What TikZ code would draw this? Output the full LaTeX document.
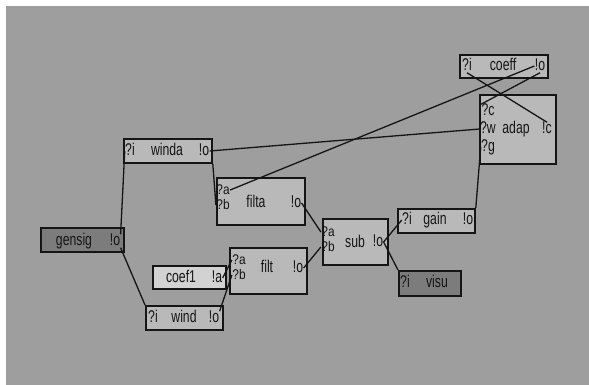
\documentclass[tikz,border=0pt]{standalone}
\usepackage{fontspec}
\setmainfont{Liberation Sans}[FakeStretch=0.72]
\newfontfamily\pairfont{Liberation Sans}[FakeStretch=0.85]
\definecolor{bggray}{HTML}{9E9E9E}
\definecolor{boxgray}{HTML}{B9B9B9}
\definecolor{boxlight}{HTML}{D2D2D2}
\definecolor{boxdark}{HTML}{7C7C7C}
\definecolor{ink}{HTML}{151515}
\begin{document}
\begin{tikzpicture}[x=1pt,y=-1pt,
  box/.style={draw=ink, line width=1.8pt, fill=boxgray, inner sep=0pt, anchor=north west},
  lbl/.style={inner sep=0.3pt, text height=11pt, text depth=1.5pt, font=\fontsize{17}{17}\selectfont, text=ink},
  pair/.style={inner sep=0.3pt, text height=10pt, text depth=1pt, font=\pairfont\fontsize{14}{14}\selectfont, text=ink},
  wire/.style={draw=ink, line width=1.3pt}]
\fill[white] (0,0) rectangle (589,385);
\fill[bggray] (6,6) rectangle (589,385);
\useasboundingbox (0,0) rectangle (589,385);
% boxes
\node[box, minimum width=88pt, minimum height=23pt] (coeff) at (459,54) {};
\node[box, minimum width=76pt, minimum height=69pt] (adap) at (479,94) {};
\node[box, minimum width=88pt, minimum height=24pt] (winda) at (123,138) {};
\node[box, minimum width=88pt, minimum height=47pt] (filta) at (216,177) {};
\node[box, minimum width=83pt, minimum height=24pt, fill=boxdark] (gensig) at (40,227) {};
\node[box, minimum width=65pt, minimum height=46pt] (sub) at (322,218) {};
\node[box, minimum width=77pt, minimum height=24pt] (gain) at (397,208) {};
\node[box, minimum width=73pt, minimum height=23pt, fill=boxlight] (coef1) at (152,265) {};
\node[box, minimum width=77pt, minimum height=46pt] (filt) at (229,247) {};
\node[box, minimum width=77pt, minimum height=24pt] (wind) at (145,305) {};
\node[box, minimum width=62pt, minimum height=25pt, fill=boxdark] (visu) at (398,270) {};
% labels
\node[lbl] (coeff-i) at (467,66) {?i};
\node[lbl] (coeff-t) at (503,66) {coeff};
\node[lbl] (coeff-o) at (540,66) {!o};
\node[lbl] (adap-c) at (488,111) {?c};
\node[lbl] (adap-w) at (488,129) {?w};
\node[lbl] (adap-g) at (488,147) {?g};
\node[lbl] (adap-t) at (516,129) {adap};
\node[lbl] (adap-oc) at (547,129) {!c};
\node[lbl] (winda-i) at (130,151) {?i};
\node[lbl] (winda-t) at (167,151) {winda};
\node[lbl] (winda-o) at (204,151) {!o};
\node[pair] (filta-a) at (223,190) {?a};
\node[pair] (filta-b) at (223,205) {?b};
\node[lbl] (filta-t) at (256,203) {filta};
\node[lbl] (filta-o) at (296,203) {!o};
\node[lbl] (gensig-t) at (74,241) {gensig};
\node[lbl] (gensig-o) at (115,241) {!o};
\node[pair] (sub-a) at (328,232) {?a};
\node[pair] (sub-b) at (328,247) {?b};
\node[lbl] (sub-t) at (355,243) {sub};
\node[lbl] (sub-o) at (378,242) {!o};
\node[lbl] (gain-i) at (407,220) {?i};
\node[lbl] (gain-t) at (435,220) {gain};
\node[lbl] (gain-o) at (468,220) {!o};
\node[lbl] (coef1-t) at (181,278) {coef1};
\node[lbl] (coef1-a) at (217,278) {!a};
\node[pair] (filt-a) at (239,260) {?a};
\node[pair] (filt-b) at (239,275) {?b};
\node[lbl] (filt-t) at (267,268) {filt};
\node[lbl] (filt-o) at (298,268) {!o};
\node[lbl] (wind-i) at (153,318) {?i};
\node[lbl] (wind-t) at (184,318) {wind};
\node[lbl] (wind-o) at (214,318) {!o};
\node[lbl] (visu-i) at (405,283) {?i};
\node[lbl] (visu-t) at (437,283) {visu};
% wires
\draw[wire] (gensig-o.north east) -- (winda-i.west);
\draw[wire] (gensig-o.south east) -- (wind.north west);
\draw[wire] (winda-o.east) -- (adap-w.west);
\draw[wire] (winda.south east) -- (filta-b.west);
\draw[wire] (filta-a.east) -- (coeff-o.west);
\draw[wire] (coeff-o.south) -- (adap-c.north west);
\draw[wire] (coeff-i.south) -- (adap-oc.north);
\draw[wire] (gain.north east) -- (adap-g.west);
\draw[wire] (sub-o.east) -- (gain-i.west);
\draw[wire] (sub-o.east) -- (visu.north west);
\draw[wire] (filta-o.east) -- (sub-a.west);
\draw[wire] (filt-o.east) -- (sub-b.west);
\draw[wire] (coef1-a.east) -- (filt-a.west);
\draw[wire] (wind-o.north east) -- (filt-b.west);
\end{tikzpicture}
\end{document}
